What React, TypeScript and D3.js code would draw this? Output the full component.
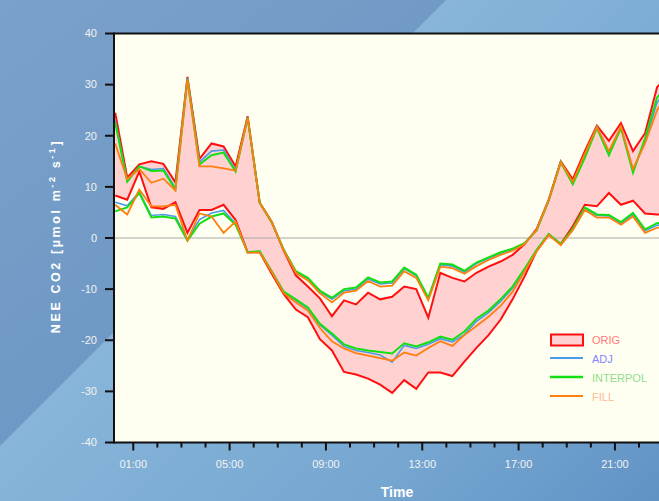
import React from 'react';
import * as d3 from 'd3';

// Half-hourly time stamps (hours of day)
const hours = [
  0.25, 0.75, 1.25, 1.75, 2.25, 2.75, 3.25, 3.75, 4.25, 4.75, 5.25, 5.75,
  6.25, 6.75, 7.25, 7.75, 8.25, 8.75, 9.25, 9.75, 10.25, 10.75, 11.25, 11.75,
  12.25, 12.75, 13.25, 13.75, 14.25, 14.75, 15.25, 15.75, 16.25, 16.75, 17.25, 17.75,
  18.25, 18.75, 19.25, 19.75, 20.25, 20.75, 21.25, 21.75, 22.25, 22.75, 23.25, 23.75,
];

// ORIG envelope (filled band)
const origUpper = [
  24.5, 11.8, 14.4, 15, 14.5, 10.9, 31.5, 15.5, 18.5, 17.9, 14, 23.8,
  6.9, 3.2, -2.5, -7.3, -9.5, -11.8, -15.3, -12.2, -13, -10.7, -12, -11.5,
  -9.5, -10, -15.6, -6.8, -7.8, -8.5, -6.8, -5.6, -4.6, -3.3, -1.2, 1.8,
  7.5, 15, 11.5, 17, 22, 19, 22.5, 17, 20.5, 29.5, 32, 30,
];
const origLower = [
  8.3, 7.5, 13, 6, 5.7, 7, 1, 5.5, 5.5, 6.5, 3.5, -2.8,
  -2.8, -7, -11, -14, -15.5, -19.8, -22, -26.2, -26.7, -27.5, -28.7, -30.3,
  -27.8, -29.5, -26.3, -26.3, -27, -24.2, -21.5, -19, -16, -12, -7.5, -2.5,
  0.6, -1.2, 2.3, 6.5, 6.2, 8.8, 6.5, 7.3, 4.8, 4.6, 4.6, 4.6,
];

// ADJ envelope
const adjUpper = [
  23, 11.2, 14, 13.4, 13.6, 9.8, 31.3, 14.9, 17, 17.2, 13.2, 23.6,
  6.9, 3.1, -2.3, -6.6, -8, -10.5, -12, -10.3, -10, -8, -9, -8.8,
  -6, -7.4, -11.9, -5.2, -5.5, -6.7, -5, -4, -3, -2.2, -1, 1.6,
  7.4, 14.9, 10.8, 16, 21.8, 16.6, 21.7, 13.1, 19, 26.5, 29.5, 28.5,
];
const adjLower = [
  7, 6.3, 9, 4.4, 4.6, 4.2, -0.3, 3.6, 4.9, 5.4, 2.8, -2.8,
  -2.6, -6.6, -10.6, -12.2, -13.8, -17, -19, -21.2, -22, -22.4, -22.9, -24.3,
  -21, -21.6, -20.8, -19.7, -20.3, -18.9, -16.3, -14.6, -12.4, -9.8, -6.2, -2.4,
  0.7, -1.3, 1.7, 5.8, 4.4, 4.3, 2.9, 4.6, 1.4, 2.5, 2.6, 2.6,
];

// INTERPOL envelope
const interpUpper = [
  22.6, 11, 14, 13.1, 13.2, 9.5, 31, 14.4, 16.2, 16.7, 13, 23.5,
  6.9, 3, -2.3, -6.5, -7.8, -10.3, -11.7, -10, -9.7, -7.7, -8.7, -8.5,
  -5.8, -7.2, -11.7, -5, -5.2, -6.4, -4.8, -3.8, -2.8, -2.1, -1, 1.5,
  7.3, 14.8, 10.5, 15.7, 21.5, 16.2, 21.5, 12.8, 19.5, 27.5, 30, 29,
];
const interpLower = [
  5.2, 6, 8.8, 4, 4.2, 3.8, -0.5, 2.8, 4.2, 4.8, 2.6, -2.8,
  -2.6, -6.5, -10.5, -12, -13.6, -16.8, -18.7, -20.8, -21.6, -22, -22.3, -22.6,
  -20.6, -21.2, -20.4, -19.3, -19.9, -18.3, -15.8, -14.2, -12, -9.5, -6, -2.3,
  0.8, -1.2, 1.8, 6, 4.6, 4.5, 3.1, 4.9, 1.7, 2.9, 3, 3,
];

// FILL envelope
const fillUpper = [
  18.5, 11.5, 13.5, 10.8, 11.6, 9.3, 31, 14, 14, 13.6, 13.2, 23.5,
  6.9, 3.1, -2.4, -6.8, -8.3, -10.8, -12.6, -10.7, -10.3, -8.4, -9.5, -9.3,
  -6.5, -7.8, -12.2, -5.6, -5.9, -7, -5.5, -4.3, -3.3, -2.5, -1.2, 1.6,
  7.4, 14.8, 11, 16.5, 21.7, 17, 21.8, 13.5, 18.5, 25, 29, 28,
];
const fillLower = [
  6.5, 4.6, 9.5, 6.2, 6.2, 6.5, -0.5, 4.8, 4.2, 1, 3.2, -2.9,
  -2.8, -6.6, -10.8, -12.6, -14.2, -17.6, -20.2, -21.6, -22.5, -23, -23.5, -24,
  -22.4, -23, -21.5, -20.2, -21.1, -19, -17.2, -15.4, -13.3, -10.5, -6.5, -2.6,
  0.6, -1.4, 1.5, 5.5, 4, 4, 2.6, 4.2, 1, 2, 2.2, 2.2,
];

const yTicks = [40, 30, 20, 10, 0, -10, -20, -30, -40];
const hourTicks = [1, 2, 3, 4, 5, 6, 7, 8, 9, 10, 11, 12, 13, 14, 15, 16, 17, 18, 19, 20, 21, 22, 23, 24];
const labelledHours = [1, 5, 9, 13, 17, 21];
const hourLabels = ['01:00', '05:00', '09:00', '13:00', '17:00', '21:00'];
const legendLabels = ['ORIG', 'ADJ', 'INTERPOL', 'FILL'];

const W = 659;
const H = 501;
const left = 114;
const top = 33.5;
const bottom = 442.5;
const right = 692;

const FONT = "'Liberation Sans', Arial, sans-serif";

export default function App() {
  const x = d3.scaleLinear().domain([0.2, 24.2]).range([left, right]);
  const y = d3.scaleLinear().domain([-40, 40]).range([bottom, top]);

  const line = (vals: number[]) =>
    d3.line<number>().x((_, i) => x(hours[i])).y((v) => y(v))(vals) || '';

  const band =
    d3
      .area<number>()
      .x((_, i) => x(hours[i]))
      .y0((_, i) => y(origLower[i]))
      .y1((v) => y(v))(origUpper) || '';

  const series = [
    { up: adjUpper, lo: adjLower, color: '#4d9be8', w: 1.6 },
    { up: interpUpper, lo: interpLower, color: '#12e012', w: 2 },
    { up: fillUpper, lo: fillLower, color: '#ff7f0e', w: 1.8 },
  ];

  const legendText = ['#ff7a7a', '#8585ff', '#8fdc8f', '#ffb899'];
  const legendLine = ['#4d9be8', '#12e012', '#ff7f0e'];

  return (
    <svg
      width={W}
      height={H}
      style={{ position: 'absolute', left: 0, top: 0, display: 'block' }}
      fontFamily={FONT}
    >
      <defs>
        <linearGradient id="bgBase" x1="0" y1="0" x2="1" y2="1">
          <stop offset="0" stopColor="#7aa1c9" />
          <stop offset="1" stopColor="#5f8dc0" />
        </linearGradient>
        <linearGradient id="bgBeam" gradientUnits="userSpaceOnUse" x1="220" y1="220" x2="600" y2="600">
          <stop offset="0" stopColor="#88b5d9" />
          <stop offset="0.55" stopColor="#76a7d1" />
          <stop offset="1" stopColor="#5e90c4" />
        </linearGradient>
        <clipPath id="plotClip">
          <rect x={left} y={top} width={right - left} height={bottom - top} />
        </clipPath>
      </defs>

      <rect x={0} y={0} width={W} height={H} fill="url(#bgBase)" />
      <polygon points="446,0 659,0 659,501 0,501 0,446" fill="url(#bgBeam)" />

      <rect x={left} y={top} width={right - left} height={bottom - top} fill="#fffff1" />

      <g clipPath="url(#plotClip)">
        <path d={band} fill="#ffd1d1" stroke="none" />
        <line x1={left} x2={right} y1={y(0)} y2={y(0)} stroke="#a9a9a9" strokeWidth={1.2} />
        <path d={line(origUpper)} fill="none" stroke="#ff1010" strokeWidth={2} />
        <path d={line(origLower)} fill="none" stroke="#ff1010" strokeWidth={2} />
        {series.map((s, k) => (
          <g key={k}>
            <path d={line(s.up)} fill="none" stroke={s.color} strokeWidth={s.w} />
            <path d={line(s.lo)} fill="none" stroke={s.color} strokeWidth={s.w} />
          </g>
        ))}
      </g>

      {/* frame */}
      <line x1={left} x2={W} y1={top} y2={top} stroke="#111" strokeWidth={2} />
      <line x1={left} x2={left} y1={top - 1} y2={bottom + 1} stroke="#111" strokeWidth={2} />
      <line x1={left} x2={W} y1={bottom} y2={bottom} stroke="#111" strokeWidth={2} />

      {/* y axis */}
      {yTicks.map((t) => (
        <g key={t}>
          <line x1={left - 9} x2={left} y1={y(t)} y2={y(t)} stroke="#111" strokeWidth={2} />
          <text
            x={97}
            y={y(t)}
            dy="0.35em"
            textAnchor="end"
            fontSize={11}
            fill="#f2f2f2"
          >
            {t}
          </text>
        </g>
      ))}

      {/* x axis */}
      {hourTicks.map((h) => (
        <line
          key={h}
          x1={x(h)}
          x2={x(h)}
          y1={bottom}
          y2={bottom + (labelledHours.includes(h) ? 8 : 5)}
          stroke="#111"
          strokeWidth={2}
        />
      ))}
      {labelledHours.map((h, i) => (
        <text key={h} x={x(h)} y={468} textAnchor="middle" fontSize={11} fill="#f2f2f2">
          {hourLabels[i]}
        </text>
      ))}

      {/* axis titles */}
      <text x={397} y={497} textAnchor="middle" fontSize={14} fontWeight="bold" fill="#ffffff">
        Time
      </text>
      <text
        transform="translate(60,236) rotate(-90)"
        textAnchor="middle"
        fontSize={12.5}
        fontWeight="bold"
        fill="#ffffff"
        letterSpacing={2.6}
      >
        NEE CO2 [µmol m
        <tspan dy={-5} fontSize={9}>-2</tspan>
        <tspan dy={5}> s</tspan>
        <tspan dy={-5} fontSize={9}>-1</tspan>
        <tspan dy={5}>]</tspan>
      </text>

      {/* legend */}
      <g>
        <rect x={551} y={334.5} width={32} height={11} fill="#ffd1d1" stroke="#ff1010" strokeWidth={2} />
        {legendLine.map((c, i) => (
          <line
            key={i}
            x1={550}
            x2={583}
            y1={358 + i * 19}
            y2={358 + i * 19}
            stroke={c}
            strokeWidth={i === 1 ? 2.4 : 1.8}
          />
        ))}
        {legendLabels.map((l, i) => (
          <text key={l} x={592} y={340 + i * 19} dy="0.35em" fontSize={11} fill={legendText[i]}>
            {l}
          </text>
        ))}
      </g>
    </svg>
  );
}
